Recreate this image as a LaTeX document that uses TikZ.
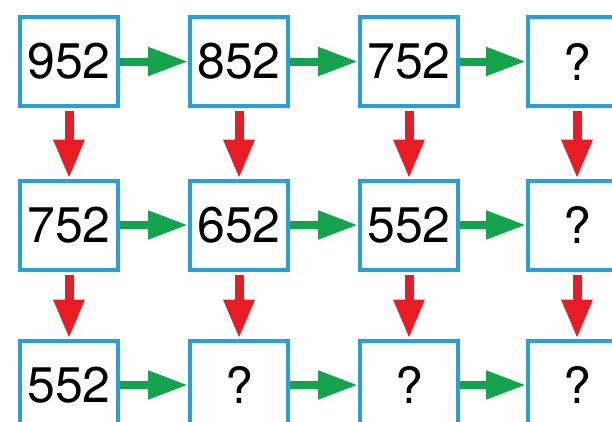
\documentclass[tikz,border=0pt]{standalone}
\usepackage{fontspec}
\setmainfont{TeX Gyre Heros}
\usepackage{xcolor}
\usepackage{tikz}
\usetikzlibrary{arrows.meta}

\definecolor{boxblue}{RGB}{38,160,214}
\definecolor{arrgreen}{RGB}{22,163,78}
\definecolor{arrred}{RGB}{232,28,36}

\begin{document}
\begin{tikzpicture}[x=1pt,y=-1pt,
  numbox/.style={draw=boxblue,line width=4pt,minimum width=98pt,minimum height=89pt,inner sep=0pt,font=\fontsize{50}{60}\selectfont},
  goright/.style={draw=arrgreen,line width=8pt,-{Triangle[length=40pt,width=27pt,fill=arrgreen]}},
  godown/.style={draw=arrred,line width=9pt,shorten <=3pt,-{Triangle[length=39pt,width=29pt,fill=arrred]}}]
\useasboundingbox (0,0) rectangle (612,421);
\node[numbox] (a1) at (69,61.5) {952};
\node[numbox] (a2) at (239,61.5) {852};
\node[numbox] (a3) at (409,61.5) {752};
\node[numbox] (a4) at (577,61.5) {?};
\node[numbox] (b1) at (69,225) {752};
\node[numbox] (b2) at (239,225) {652};
\node[numbox] (b3) at (409,225) {552};
\node[numbox] (b4) at (577,225) {?};
\node[numbox] (c1) at (69,385) {552};
\node[numbox] (c2) at (239,385) {?};
\node[numbox] (c3) at (409,385) {?};
\node[numbox] (c4) at (577,385) {?};
\draw[goright] (a1) -- (a2);
\draw[goright] (a2) -- (a3);
\draw[goright] (a3) -- (a4);
\draw[goright] (b1) -- (b2);
\draw[goright] (b2) -- (b3);
\draw[goright] (b3) -- (b4);
\draw[goright] (c1) -- (c2);
\draw[goright] (c2) -- (c3);
\draw[goright] (c3) -- (c4);
\draw[godown] (a1) -- (b1);
\draw[godown] (a2) -- (b2);
\draw[godown] (a3) -- (b3);
\draw[godown] (a4) -- (b4);
\draw[godown] (b1) -- (c1);
\draw[godown] (b2) -- (c2);
\draw[godown] (b3) -- (c3);
\draw[godown] (b4) -- (c4);
\end{tikzpicture}
\end{document}
